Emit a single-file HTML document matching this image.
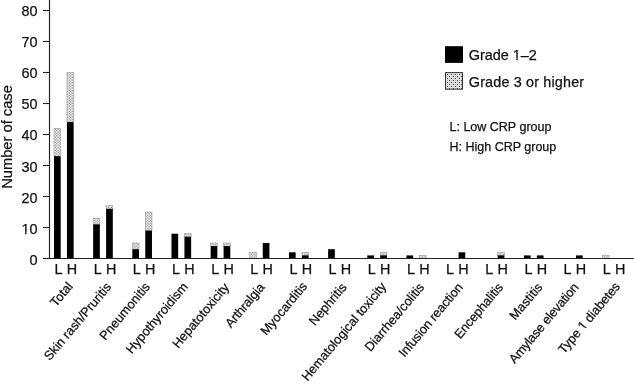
<!DOCTYPE html>
<html><head><meta charset="utf-8"><style>
html,body{margin:0;padding:0;background:#fff;}
body{width:634px;height:384px;overflow:hidden;}
svg{display:block;will-change:transform;}
text{font-family:"Liberation Sans",sans-serif;fill:#111;stroke:#111;stroke-width:0.25px;}
</style></head><body>
<svg width="634" height="384" viewBox="0 0 634 384">
<defs>
<pattern id="st" width="2.8" height="2.6" patternUnits="userSpaceOnUse">
<rect width="2.8" height="2.6" fill="#ffffff"/>
<rect x="0.2" y="0.2" width="1.05" height="1.0" fill="#555555"/>
<rect x="1.6" y="1.5" width="1.05" height="1.0" fill="#555555"/>
</pattern>
<pattern id="st2" x="447" y="74" width="4" height="4" patternUnits="userSpaceOnUse">
<rect width="4" height="4" fill="#e2e2e2"/>
<rect x="0" y="0" width="1" height="1" fill="#404040"/>
<rect x="2" y="2" width="1" height="1" fill="#404040"/>
<rect x="2" y="0" width="1" height="1" fill="#b0b0b0"/>
<rect x="0" y="2" width="1" height="1" fill="#b0b0b0"/>
</pattern>
</defs>

<line x1="43" y1="258.50" x2="49.5" y2="258.50" stroke="#222" stroke-width="1.1"/>
<text x="37.6" y="264.92" font-size="14.4" text-anchor="end">0</text>
<line x1="43" y1="227.50" x2="49.5" y2="227.50" stroke="#222" stroke-width="1.1"/>
<text x="37.6" y="233.78" font-size="14.4" text-anchor="end">10</text>
<rect x="21.86" y="231.95" width="3.27" height="2.95" fill="#fff"/>
<rect x="26.56" y="231.95" width="2.97" height="2.95" fill="#fff"/>
<line x1="43" y1="196.50" x2="49.5" y2="196.50" stroke="#222" stroke-width="1.1"/>
<text x="37.6" y="202.64" font-size="14.4" text-anchor="end">20</text>
<line x1="43" y1="165.50" x2="49.5" y2="165.50" stroke="#222" stroke-width="1.1"/>
<text x="37.6" y="171.50" font-size="14.4" text-anchor="end">30</text>
<line x1="43" y1="134.50" x2="49.5" y2="134.50" stroke="#222" stroke-width="1.1"/>
<text x="37.6" y="140.36" font-size="14.4" text-anchor="end">40</text>
<line x1="43" y1="103.50" x2="49.5" y2="103.50" stroke="#222" stroke-width="1.1"/>
<text x="37.6" y="109.22" font-size="14.4" text-anchor="end">50</text>
<line x1="43" y1="72.50" x2="49.5" y2="72.50" stroke="#222" stroke-width="1.1"/>
<text x="37.6" y="78.08" font-size="14.4" text-anchor="end">60</text>
<line x1="43" y1="41.50" x2="49.5" y2="41.50" stroke="#222" stroke-width="1.1"/>
<text x="37.6" y="46.94" font-size="14.4" text-anchor="end">70</text>
<line x1="43" y1="10.50" x2="49.5" y2="10.50" stroke="#222" stroke-width="1.1"/>
<text x="37.6" y="15.80" font-size="14.4" text-anchor="end">80</text>
<rect x="54.00" y="128.30" width="6.7" height="27.90" fill="url(#st)" stroke="#8a8a8a" stroke-width="0.5"/>
<rect x="54.00" y="156.20" width="6.7" height="102.30" fill="#000"/>
<rect x="66.95" y="72.50" width="6.7" height="49.60" fill="url(#st)" stroke="#8a8a8a" stroke-width="0.5"/>
<rect x="66.95" y="122.10" width="6.7" height="136.40" fill="#000"/>
<text x="54.50" y="273.9" font-size="14.4">L</text>
<text x="66.75" y="273.9" font-size="14.4">H</text>
<g transform="translate(73.50,286.7) rotate(-50.0)"><text x="0" y="0" font-size="12.8" text-anchor="end">Total</text>
</g>
<rect x="93.16" y="218.20" width="6.7" height="6.20" fill="url(#st)" stroke="#8a8a8a" stroke-width="0.5"/>
<rect x="93.16" y="224.40" width="6.7" height="34.10" fill="#000"/>
<rect x="106.11" y="205.80" width="6.7" height="3.10" fill="url(#st)" stroke="#8a8a8a" stroke-width="0.5"/>
<rect x="106.11" y="208.90" width="6.7" height="49.60" fill="#000"/>
<text x="93.66" y="273.9" font-size="14.4">L</text>
<text x="105.91" y="273.9" font-size="14.4">H</text>
<g transform="translate(111.96,287.2) rotate(-50.0)"><text x="0" y="0" font-size="12.8" text-anchor="end">Skin rash/Pruritis</text>
</g>
<rect x="132.32" y="243.00" width="6.7" height="6.20" fill="url(#st)" stroke="#8a8a8a" stroke-width="0.5"/>
<rect x="132.32" y="249.20" width="6.7" height="9.30" fill="#000"/>
<rect x="145.27" y="212.00" width="6.7" height="18.60" fill="url(#st)" stroke="#8a8a8a" stroke-width="0.5"/>
<rect x="145.27" y="230.60" width="6.7" height="27.90" fill="#000"/>
<text x="132.82" y="273.9" font-size="14.4">L</text>
<text x="145.07" y="273.9" font-size="14.4">H</text>
<g transform="translate(150.62,287.0) rotate(-50.0)"><text x="0" y="0" font-size="12.8" text-anchor="end">Pneumonitis</text>
</g>
<rect x="171.48" y="233.70" width="6.7" height="24.80" fill="#000"/>
<rect x="184.43" y="233.70" width="6.7" height="3.10" fill="url(#st)" stroke="#8a8a8a" stroke-width="0.5"/>
<rect x="184.43" y="236.80" width="6.7" height="21.70" fill="#000"/>
<text x="171.98" y="273.9" font-size="14.4">L</text>
<text x="184.23" y="273.9" font-size="14.4">H</text>
<g transform="translate(188.48,287.0) rotate(-50.0)"><text x="0" y="0" font-size="12.8" text-anchor="end">Hypothyroidism</text>
</g>
<rect x="210.64" y="243.00" width="6.7" height="3.10" fill="url(#st)" stroke="#8a8a8a" stroke-width="0.5"/>
<rect x="210.64" y="246.10" width="6.7" height="12.40" fill="#000"/>
<rect x="223.59" y="243.00" width="6.7" height="3.10" fill="url(#st)" stroke="#8a8a8a" stroke-width="0.5"/>
<rect x="223.59" y="246.10" width="6.7" height="12.40" fill="#000"/>
<text x="211.14" y="273.9" font-size="14.4">L</text>
<text x="223.39" y="273.9" font-size="14.4">H</text>
<g transform="translate(229.84,287.5) rotate(-50.0)"><text x="0" y="0" font-size="12.8" text-anchor="end">Hepatotoxicity</text>
</g>
<rect x="249.80" y="252.30" width="6.7" height="6.20" fill="url(#st)" stroke="#8a8a8a" stroke-width="0.5"/>
<rect x="262.75" y="243.00" width="6.7" height="15.50" fill="#000"/>
<text x="250.30" y="273.9" font-size="14.4">L</text>
<text x="262.55" y="273.9" font-size="14.4">H</text>
<g transform="translate(265.30,287.5) rotate(-50.0)"><text x="0" y="0" font-size="12.8" text-anchor="end" textLength="53.40" lengthAdjust="spacing">Arthralgia</text>
</g>
<rect x="288.96" y="252.30" width="6.7" height="6.20" fill="#000"/>
<rect x="301.91" y="252.30" width="6.7" height="3.10" fill="url(#st)" stroke="#8a8a8a" stroke-width="0.5"/>
<rect x="301.91" y="255.40" width="6.7" height="3.10" fill="#000"/>
<text x="289.46" y="273.9" font-size="14.4">L</text>
<text x="301.71" y="273.9" font-size="14.4">H</text>
<g transform="translate(307.96,286.5) rotate(-50.0)"><text x="0" y="0" font-size="12.8" text-anchor="end">Myocarditis</text>
</g>
<rect x="328.12" y="249.20" width="6.7" height="9.30" fill="#000"/>
<text x="328.62" y="273.9" font-size="14.4">L</text>
<text x="340.87" y="273.9" font-size="14.4">H</text>
<g transform="translate(347.32,287.5) rotate(-50.0)"><text x="0" y="0" font-size="12.8" text-anchor="end">Nephritis</text>
</g>
<rect x="367.28" y="255.40" width="6.7" height="3.10" fill="#000"/>
<rect x="380.23" y="252.30" width="6.7" height="3.10" fill="url(#st)" stroke="#8a8a8a" stroke-width="0.5"/>
<rect x="380.23" y="255.40" width="6.7" height="3.10" fill="#000"/>
<text x="367.78" y="273.9" font-size="14.4">L</text>
<text x="380.03" y="273.9" font-size="14.4">H</text>
<g transform="translate(386.98,286.9) rotate(-50.0)"><text x="0" y="0" font-size="12.8" text-anchor="end">Hematological toxicity</text>
</g>
<rect x="406.44" y="255.40" width="6.7" height="3.10" fill="#000"/>
<rect x="419.39" y="255.40" width="6.7" height="3.10" fill="url(#st)" stroke="#8a8a8a" stroke-width="0.5"/>
<text x="406.94" y="273.9" font-size="14.4">L</text>
<text x="419.19" y="273.9" font-size="14.4">H</text>
<g transform="translate(424.94,287.5) rotate(-50.0)"><text x="0" y="0" font-size="12.8" text-anchor="end">Diarrhea/colitis</text>
</g>
<rect x="458.55" y="252.30" width="6.7" height="6.20" fill="#000"/>
<text x="446.10" y="273.9" font-size="14.4">L</text>
<text x="458.35" y="273.9" font-size="14.4">H</text>
<g transform="translate(463.60,287.5) rotate(-50.0)"><text x="0" y="0" font-size="12.8" text-anchor="end" textLength="91.83" lengthAdjust="spacing">Infusion reaction</text>
</g>
<rect x="497.71" y="252.30" width="6.7" height="3.10" fill="url(#st)" stroke="#8a8a8a" stroke-width="0.5"/>
<rect x="497.71" y="255.40" width="6.7" height="3.10" fill="#000"/>
<text x="485.26" y="273.9" font-size="14.4">L</text>
<text x="497.51" y="273.9" font-size="14.4">H</text>
<g transform="translate(503.76,287.5) rotate(-50.0)"><text x="0" y="0" font-size="12.8" text-anchor="end" textLength="67.78" lengthAdjust="spacing">Encephalitis</text>
</g>
<rect x="523.92" y="255.40" width="6.7" height="3.10" fill="#000"/>
<rect x="536.87" y="255.40" width="6.7" height="3.10" fill="#000"/>
<text x="524.42" y="273.9" font-size="14.4">L</text>
<text x="536.67" y="273.9" font-size="14.4">H</text>
<g transform="translate(543.12,287.5) rotate(-50.0)"><text x="0" y="0" font-size="12.8" text-anchor="end">Mastitis</text>
</g>
<rect x="576.03" y="255.40" width="6.7" height="3.10" fill="#000"/>
<text x="563.58" y="273.9" font-size="14.4">L</text>
<text x="575.83" y="273.9" font-size="14.4">H</text>
<g transform="translate(579.28,287.5) rotate(-50.0)"><text x="0" y="0" font-size="12.8" text-anchor="end" textLength="100.22" lengthAdjust="spacing">Amylase elevation</text>
</g>
<rect x="602.24" y="255.40" width="6.7" height="3.10" fill="url(#st)" stroke="#8a8a8a" stroke-width="0.5"/>
<text x="602.74" y="273.9" font-size="14.4">L</text>
<text x="614.99" y="273.9" font-size="14.4">H</text>
<g transform="translate(620.74,286.8) rotate(-50.0)"><text x="0" y="0" font-size="12.8" text-anchor="end" textLength="88.45" lengthAdjust="spacing">Type 1 diabetes</text>
<rect x="-57.13" y="-1.62" width="2.91" height="2.62" fill="#fff"/>
<rect x="-52.95" y="-1.62" width="2.64" height="2.62" fill="#fff"/>
</g>
<line x1="49.5" y1="0" x2="49.5" y2="259.0" stroke="#222" stroke-width="1.15"/>
<line x1="43" y1="258.5" x2="634" y2="258.5" stroke="#222" stroke-width="1.15"/>
<text x="0" y="0" font-size="14.7" text-anchor="middle" transform="translate(11.8,137.0) rotate(-90)">Number of case</text>
<rect x="445" y="46.2" width="18" height="16.7" fill="#000"/>
<rect x="445.5" y="72.6" width="17" height="16.6" fill="url(#st2)" stroke="#333" stroke-width="1"/>
<text x="468.8" y="59.7" font-size="14.4">Grade 1–2</text>
<rect x="513.10" y="57.87" width="3.27" height="2.95" fill="#fff"/>
<rect x="517.80" y="57.87" width="2.97" height="2.95" fill="#fff"/>
<text x="468.8" y="86.9" font-size="14.4" letter-spacing="0.16">Grade 3 or higher</text>
<text x="449.5" y="130.7" font-size="12.5">L: Low CRP group</text>
<text x="449.5" y="151" font-size="12.5">H: High CRP group</text>
</svg></body></html>
